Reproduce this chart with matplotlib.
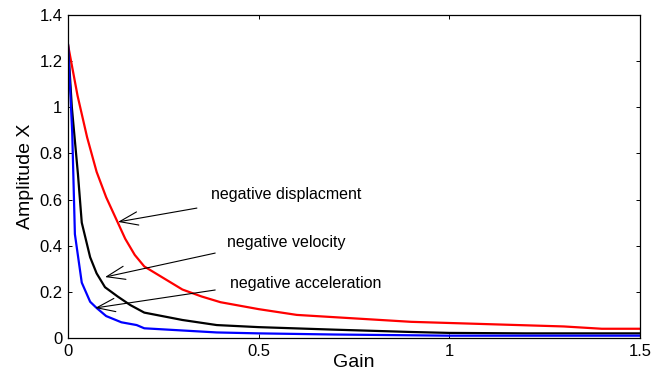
"""Amplitude X versus gain for three negative feedback types."""

import matplotlib as mpl
import matplotlib.pyplot as plt

gain_disp = [0.0, 0.025, 0.05, 0.075, 0.1, 0.125, 0.15, 0.175, 0.2, 0.25, 0.3,
             0.35, 0.4, 0.5, 0.6, 0.7, 0.8, 0.9, 1.0, 1.1, 1.2, 1.3, 1.4, 1.5]
amp_disp = [1.27, 1.05, 0.87, 0.72, 0.61, 0.52, 0.43, 0.36, 0.31, 0.26, 0.21,
            0.18, 0.155, 0.125, 0.10, 0.09, 0.08, 0.07, 0.065, 0.06, 0.055, 0.05, 0.04, 0.04]

gain_vel = [0.0, 0.01, 0.026, 0.036, 0.058, 0.075, 0.097, 0.13, 0.163, 0.2, 0.3,
            0.39, 0.5, 0.7, 0.9, 1.0, 1.2, 1.5]
amp_vel = [1.27, 1.0, 0.71, 0.5, 0.35, 0.28, 0.22, 0.18, 0.143, 0.11, 0.078,
           0.056, 0.047, 0.036, 0.026, 0.022, 0.02, 0.02]

gain_acc = [0.0, 0.011, 0.018, 0.036, 0.058, 0.075, 0.1, 0.14, 0.18, 0.2, 0.39,
            0.5, 0.7, 1.0, 1.5]
amp_acc = [1.27, 0.89, 0.45, 0.24, 0.157, 0.13, 0.095, 0.068, 0.056, 0.042, 0.024,
           0.02, 0.015, 0.01, 0.01]

notes = ["negative displacment", "negative velocity", "negative acceleration"]
note_text_xy = [(0.375, 0.62), (0.417, 0.412), (0.425, 0.238)]
note_tail_xy = [(0.338, 0.563), (0.386, 0.368), (0.386, 0.208)]
note_head_xy = [(0.131, 0.503), (0.097, 0.264), (0.071, 0.13)]

x_ticks = [0, 0.5, 1, 1.5]
y_ticks = [0, 0.2, 0.4, 0.6, 0.8, 1.0, 1.2, 1.4]

mpl.rcParams.update({
    "font.family": ["Liberation Sans", "DejaVu Sans"],
    "font.size": 12,
})

fig = plt.figure(figsize=(6.51, 3.74), dpi=100)
ax = fig.add_axes([0.1045, 0.0963, 0.8785, 0.8637])

ax.plot(gain_disp, amp_disp, color="#ff0000", lw=1.6)
ax.plot(gain_vel, amp_vel, color="black", lw=1.6)
ax.plot(gain_acc, amp_acc, color="#0000ff", lw=1.6)

for label, txy, tail, head in zip(notes, note_text_xy, note_tail_xy, note_head_xy):
    ax.text(txy[0], txy[1], label, fontsize=11.5, ha="left", va="center")
    ax.annotate("", xy=head, xytext=tail,
                arrowprops=dict(arrowstyle="->,head_length=1.1,head_width=0.4",
                                lw=0.8, color="black", shrinkA=0, shrinkB=0))

ax.set_xlim(0, 1.5)
ax.set_ylim(0, 1.4)
ax.set_xticks(x_ticks)
ax.set_xticklabels(["0", "0.5", "1", "1.5"])
ax.set_yticks(y_ticks)
ax.set_yticklabels(["0", "0.2", "0.4", "0.6", "0.8", "1", "1.2", "1.4"])
ax.tick_params(direction="in", top=True, right=True, length=3, width=0.7,
               labelsize=12, pad=4)
for spine in ax.spines.values():
    spine.set_linewidth(0.9)

ax.set_xlabel("Gain", fontsize=14, labelpad=-3)
ax.set_ylabel("Amplitude X", fontsize=14, labelpad=4)

fig.savefig("out.png", dpi=100)
